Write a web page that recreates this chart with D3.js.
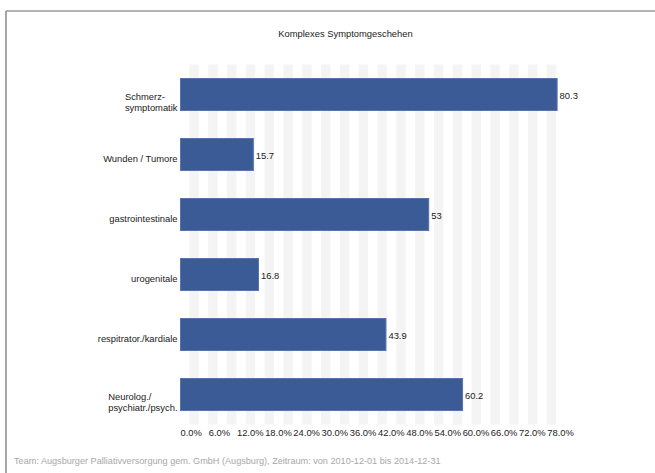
<!DOCTYPE html>
<html>
<head>
<meta charset="utf-8">
<script src="https://cdnjs.cloudflare.com/ajax/libs/d3/7.8.5/d3.min.js"></script>
<style>
  html, body { margin: 0; padding: 0; background: #fff; }
  svg { display: block; font-family: "Liberation Sans", Arial, sans-serif; }
</style>
</head>
<body>
<svg id="chart" width="655" height="473"></svg>
<script>
const title = "Komplexes Symptomgeschehen";
const footer = "Team: Augsburger Palliativversorgung gem. GmbH (Augsburg), Zeitraum: von 2010-12-01 bis 2014-12-31";
const categories = [
  ["Schmerz-", "symptomatik"],
  ["Wunden / Tumore"],
  ["gastrointestinale"],
  ["urogenitale"],
  ["respitrator./kardiale"],
  ["Neurolog./", "psychiatr./psych."]
];
const values = [80.3, 15.7, 53, 16.8, 43.9, 60.2];
const valueLabels = ["80.3", "15.7", "53", "16.8", "43.9", "60.2"];
const tickValues = [0, 6, 12, 18, 24, 30, 36, 42, 48, 54, 60, 66, 72, 78];
const xMax = 82;
const stripeStep = 2;

const svg = d3.select("#chart");
const fs = 9.4;

// frame (top and left borders)
svg.append("line").attr("x1", 6).attr("x2", 655).attr("y1", 11).attr("y2", 11)
  .attr("stroke", "#9a9a9a").attr("stroke-width", 1.5);
svg.append("line").attr("x1", 6).attr("x2", 6).attr("y1", 11).attr("y2", 473)
  .attr("stroke", "#8a8a8a").attr("stroke-width", 1.5);

const x = d3.scaleLinear().domain([0, xMax]).range([180, 565.6]);
const y = d3.scaleBand().domain(d3.range(categories.length)).range([64.5, 424.5])
  .paddingInner(0.45).paddingOuter(0.225);

// stripes
const stripes = d3.range(0, xMax / stripeStep).filter(i => i % 2 === 1);
svg.append("g").selectAll("rect").data(stripes).join("rect")
  .attr("x", i => x(i * stripeStep))
  .attr("width", i => x((i + 1) * stripeStep) - x(i * stripeStep))
  .attr("y", 64.5).attr("height", 360)
  .attr("fill", "#f4f4f4");

// bars
svg.append("g").selectAll("rect").data(values).join("rect")
  .attr("x", x(0) + 0.5)
  .attr("y", (d, i) => y(i) + 0.5)
  .attr("width", d => x(d) - x(0) - 1)
  .attr("height", y.bandwidth() - 1)
  .attr("fill", "#3b5b96")
  .attr("stroke", "#5774ad")
  .attr("stroke-width", 1);

// value labels
svg.append("g").selectAll("text").data(values).join("text")
  .attr("x", d => x(d) + 2)
  .attr("y", (d, i) => y(i) + y.bandwidth() / 2 + 4)
  .attr("font-size", fs)
  .attr("fill", "#1a1a1a")
  .text((d, i) => valueLabels[i]);

// category labels
const catG = svg.append("g");
categories.forEach((lines, i) => {
  const cy = y(i) + y.bandwidth() / 2;
  const base = lines.length > 1 ? cy + 5.5 : cy + 7.5;
  const t = catG.append("text").attr("font-size", fs).attr("fill", "#222");
  lines.forEach((ln, k) => {
    t.append("tspan").attr("y", base + k * 11).text(ln);
  });
  const widths = [];
  t.selectAll("tspan").each(function() { widths.push(this.getComputedTextLength()); });
  const maxW = d3.max(widths);
  t.selectAll("tspan").attr("x", 177.5 - maxW);
});

// x axis tick labels
const axis = d3.axisBottom(x).tickValues(tickValues).tickFormat(d => d.toFixed(1) + "%").tickSize(0);
const ax = svg.append("g").attr("transform", "translate(0,426)").call(axis);
ax.select(".domain").remove();
ax.selectAll("text")
  .attr("text-anchor", "start")
  .attr("dy", "0")
  .attr("y", 9.5)
  .attr("font-size", fs)
  .attr("font-family", "Liberation Sans, Arial, sans-serif")
  .attr("fill", "#222");

// title
svg.append("text").attr("x", 345.5).attr("y", 36.5).attr("text-anchor", "middle")
  .attr("font-size", fs).attr("fill", "#222").text(title);

// footer
svg.append("text").attr("x", 14).attr("y", 464).attr("font-size", 9.15)
  .attr("fill", "#a8a8a8").text(footer);
</script>
</body>
</html>
